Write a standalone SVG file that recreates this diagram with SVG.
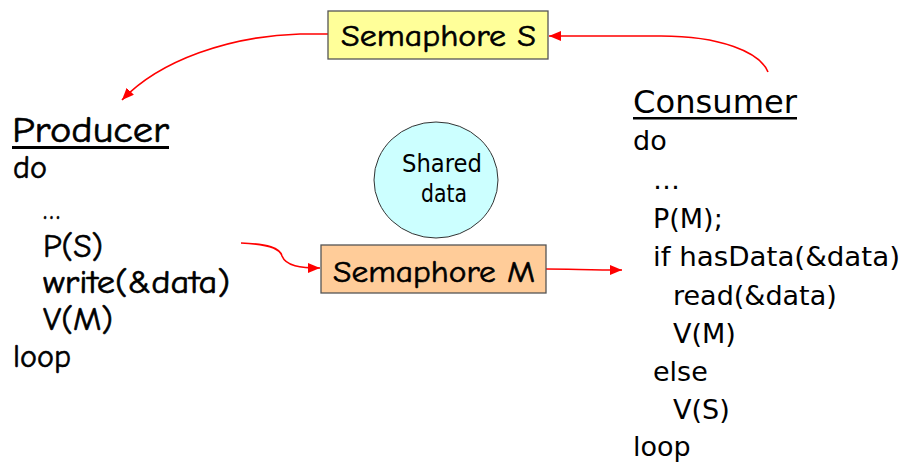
<svg xmlns="http://www.w3.org/2000/svg" width="907" height="466" viewBox="0 0 907 466">
<defs>
<marker id="ah" viewBox="0 0 12 10" refX="12" refY="5" markerWidth="12" markerHeight="10" markerUnits="userSpaceOnUse" orient="auto">
<path d="M0,0 L12,5 L0,10 z" fill="#FF0000"/>
</marker>
</defs>
<style>
.comic{font-family:"Comic Sans MS","Comic Neue","DejaVu Sans",sans-serif;fill:#000;stroke:#000;stroke-width:0.6}
.tah{font-family:"DejaVu Sans",Tahoma,sans-serif;fill:#000}
.conn{fill:none;stroke:#FF0000;stroke-width:1.6;marker-end:url(#ah)}
.box{stroke:#555;stroke-width:1.3}
</style>
<rect width="907" height="466" fill="#fff"/>
<g id="connectors">
<path class="conn" d="M768,72 C760,52 720,36 661,36 L549,36"/>
<path class="conn" d="M328,34 L300,34 C230,36 160,60 122,100"/>
<path class="conn" d="M241,243 C268,244 280,248 282,256 C286,266 300,268 320,268"/>
<path class="conn" d="M546,269 C570,269 590,270 622,270"/>
</g>
<g id="semS">
<rect class="box" x="328" y="11" width="220" height="48" fill="#FFFF99"/>
<text class="comic" x="341" y="46" font-size="30" textLength="195" lengthAdjust="spacingAndGlyphs">Semaphore S</text>
</g>
<g id="semM">
<rect class="box" x="321" y="245" width="225" height="48" fill="#FFCC99"/>
<text class="comic" x="333" y="282" font-size="30" textLength="202" lengthAdjust="spacingAndGlyphs">Semaphore M</text>
</g>
<g id="shared">
<ellipse cx="436" cy="180" rx="62" ry="58" fill="#CCFFFF" stroke="#333" stroke-width="1"/>
<text class="tah" x="442" y="172" font-size="24" text-anchor="middle" textLength="80" lengthAdjust="spacingAndGlyphs">Shared</text>
<text class="tah" x="444" y="202" font-size="24" text-anchor="middle" textLength="46" lengthAdjust="spacingAndGlyphs">data</text>
</g>
<g id="producer" class="comic">
<text x="12" y="142" font-size="36" textLength="157" lengthAdjust="spacingAndGlyphs">Producer</text>
<rect x="12" y="146" width="157" height="3" fill="#000" stroke="none"/>
<text x="13" y="178" font-size="32" textLength="34" lengthAdjust="spacingAndGlyphs">do</text>
<text x="43" y="219" font-size="32" textLength="17" lengthAdjust="spacingAndGlyphs">…</text>
<text x="43" y="257" font-size="32" textLength="60" lengthAdjust="spacingAndGlyphs">P(S)</text>
<text x="43" y="293" font-size="32" textLength="187" lengthAdjust="spacingAndGlyphs">write(&amp;data)</text>
<text x="43" y="330" font-size="32" textLength="70" lengthAdjust="spacingAndGlyphs">V(M)</text>
<text x="13" y="367" font-size="32" textLength="58" lengthAdjust="spacingAndGlyphs">loop</text>
</g>
<g id="consumer" class="tah">
<text x="633" y="113" font-size="32" textLength="164" lengthAdjust="spacingAndGlyphs">Consumer</text>
<rect x="633" y="117" width="164" height="2.5" fill="#000"/>
<text x="633" y="150" font-size="27">do</text>
<text x="653" y="189" font-size="27">…</text>
<text x="653" y="228" font-size="27">P(M);</text>
<text x="653" y="266" font-size="27" textLength="247" lengthAdjust="spacingAndGlyphs">if hasData(&amp;data)</text>
<text x="673" y="305" font-size="27">read(&amp;data)</text>
<text x="673" y="343" font-size="27">V(M)</text>
<text x="653" y="381" font-size="27">else</text>
<text x="673" y="419" font-size="27">V(S)</text>
<text x="633" y="456" font-size="27">loop</text>
</g>
</svg>
